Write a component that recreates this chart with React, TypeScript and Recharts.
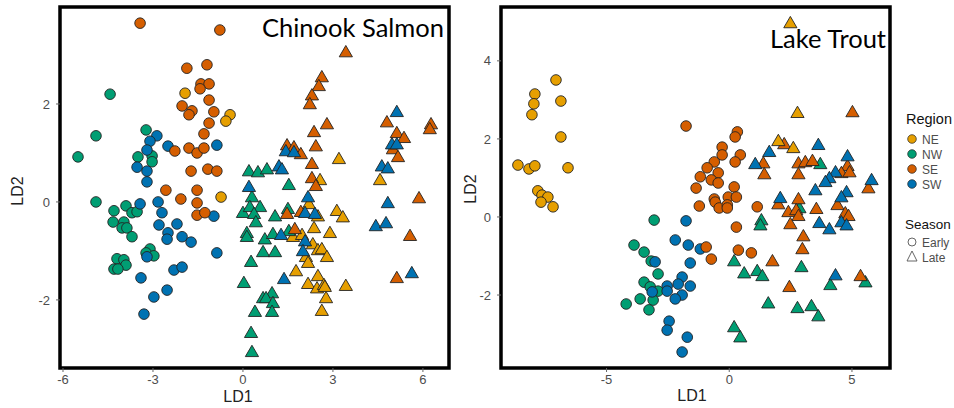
import React from "react";
import { ScatterChart, Scatter, XAxis, YAxis, ReferenceArea } from "recharts";

type Pt = [number, number];

const regionColors: Record<string, string> = {
  NE: "#E69F00",
  NW: "#009E73",
  SE: "#D55E00",
  SW: "#0072B2",
};
const regions = ["NE", "NW", "SE", "SW"];
const seasons = ["Early", "Late"];

// Chinook Salmon discriminant scores (LD1, LD2)
const chinookNEEarly: Pt[] = [[-1.93, 2.22], [-0.43, 1.78], [-0.57, 1.65], [-0.73, 0.1]];
const chinookNWEarly: Pt[] = [
  [-4.43, 2.2], [-4.9, 1.35], [-5.5, 0.92], [-3.23, 1.47], [-3.5, 0.92], [-3.03, 0.94], [-3.03, 0.82],
  [-4.9, 0.0], [-3.9, -0.08], [-4.3, -0.18], [-3.7, -0.22], [-3.53, -0.2], [-4.33, -0.41], [-3.97, -0.41],
  [-4.03, -0.53], [-3.87, -0.53], [-3.7, -0.71], [-3.1, -0.96], [-3.23, -1.04], [-2.97, -1.1], [-4.2, -1.16],
  [-3.97, -1.18], [-3.9, -1.29], [-4.3, -1.37], [-4.17, -1.37],
];
const chinookSEEarly: Pt[] = [
  [-3.43, 3.65], [-0.77, 3.51], [-1.87, 2.73], [-1.2, 2.8], [-1.4, 2.41], [-1.13, 2.41], [-1.43, 2.31],
  [-1.13, 2.08], [-2.03, 1.96], [-1.7, 1.86], [-1.8, 1.78], [-0.97, 1.84], [-1.13, 1.61], [-1.3, 1.39],
  [-2.27, 1.04], [-1.8, 1.1], [-1.53, 1.0], [-1.3, 1.1], [-1.73, 0.63], [-1.17, 0.67], [-0.87, 0.63],
  [-2.57, 0.24], [-1.53, 0.24], [-2.07, 0.06], [-1.53, -0.02], [-1.53, -0.27], [-1.27, -0.22],
];
const chinookSWEarly: Pt[] = [
  [-2.87, 1.35], [-3.1, 1.24], [-2.5, 1.14], [-0.87, 1.16], [-3.2, 1.06], [-3.53, 0.71], [-3.2, 0.63],
  [-3.2, 0.41], [-3.43, -0.04], [-2.83, 0.0], [-2.7, -0.22], [-0.97, -0.29], [-2.8, -0.47], [-2.2, -0.45],
  [-2.5, -0.63], [-2.53, -0.76], [-2.03, -0.71], [-1.73, -0.82], [-0.87, -1.04], [-3.2, -1.12], [-2.3, -1.39],
  [-2.03, -1.33], [-3.4, -1.55], [-2.53, -1.8], [-2.97, -1.94], [-3.3, -2.29],
];
const chinookNELate: Pt[] = [
  [3.2, 0.88], [2.57, 0.45], [4.57, 0.45], [2.2, -0.04], [2.5, -0.29], [3.13, -0.18], [3.33, -0.31],
  [2.37, -0.53], [2.9, -0.63], [1.67, -0.71], [1.97, -0.67], [2.33, -0.86], [2.5, -0.98], [2.63, -0.96],
  [2.8, -1.12], [2.1, -1.12], [2.17, -1.24], [1.77, -1.41], [2.5, -1.51], [2.17, -1.67], [2.47, -1.76],
  [2.7, -1.69], [2.73, -1.73], [3.43, -1.71], [2.77, -1.96], [2.63, -2.22],
];
const chinookNWLate: Pt[] = [
  [0.2, 0.63], [0.5, 0.61], [0.8, 0.67], [1.53, 0.35], [0.3, 0.1], [0.0, -0.22], [0.23, -0.1],
  [0.57, -0.1], [0.37, -0.24], [0.43, -0.41], [1.07, -0.29], [1.5, -0.14], [0.13, -0.63], [0.13, -0.71],
  [0.73, -0.76], [1.0, -0.65], [1.53, -0.59], [0.67, -1.02], [1.07, -1.02], [0.27, -1.22], [0.03, -1.65],
  [0.67, -1.96], [0.97, -1.86], [0.77, -1.96], [1.0, -2.06], [0.97, -2.24], [0.4, -2.24], [0.27, -2.67],
  [0.3, -3.06],
];
const chinookSELate: Pt[] = [
  [3.43, 3.06], [2.63, 2.55], [2.53, 2.37], [2.3, 2.18], [2.23, 2.0], [2.8, 1.59], [2.37, 1.43],
  [2.43, 1.14], [1.47, 1.16], [1.7, 1.12], [1.93, 0.98], [2.3, 0.78], [2.3, 0.49], [2.43, 0.33],
  [4.8, 1.63], [5.13, 1.41], [5.37, 1.31], [5.0, 1.08], [5.17, 0.92], [6.27, 1.59], [6.23, 1.49],
  [5.87, 0.08], [1.47, -0.24], [1.93, -0.2], [1.73, -0.55], [5.57, -0.69], [5.13, -1.55],
];
const chinookSWLate: Pt[] = [
  [1.43, 1.04], [1.7, 1.02], [1.2, 0.73], [1.3, 0.67], [0.2, 0.31], [2.17, 0.1], [5.13, 1.84],
  [4.97, 1.18], [5.13, 1.18], [4.63, 0.73], [4.83, 0.69], [4.83, -0.02], [2.07, -0.22], [2.4, -0.24],
  [4.43, -0.49], [4.77, -0.43], [1.27, -0.67], [2.07, -0.8], [2.0, -1.0], [1.37, -1.57], [5.63, -1.45],
];

// Lake Trout discriminant scores (LD1, LD2)
const troutNEEarly: Pt[] = [
  [-7.06, 3.51], [-7.92, 3.15], [-7.96, 2.9], [-8.04, 2.62], [-6.86, 2.97], [-6.86, 2.05], [-8.61, 1.33],
  [-8.16, 1.23], [-7.92, 1.31], [-6.57, 1.26], [-7.8, 0.67], [-7.63, 0.56], [-7.39, 0.51], [-7.67, 0.38],
  [-7.18, 0.26],
];
const troutNWEarly: Pt[] = [
  [-3.06, -0.08], [-3.88, -0.72], [-3.47, -0.9], [-3.18, -1.13], [-2.9, -1.46], [-3.47, -1.67],
  [-3.22, -1.79], [-2.9, -1.9], [-3.63, -2.1], [-3.1, -2.13], [-3.27, -2.38], [-4.2, -2.23],
];
const troutSEEarly: Pt[] = [
  [-1.76, 2.33], [0.33, 2.18], [0.24, 2.05], [-0.29, 1.79], [-0.29, 1.59], [0.45, 1.59], [-0.61, 1.41],
  [-0.9, 1.26], [0.24, 1.41], [-0.45, 1.13], [-0.73, 0.95], [-0.45, 0.87], [-1.18, 1.03], [0.2, 0.77],
  [-0.04, 0.51], [0.29, 0.51], [-0.61, 0.46], [-1.35, 0.74], [-1.22, 0.28], [-0.57, 0.38], [-0.41, 0.23],
  [-0.08, 0.31], [-0.08, 0.23], [1.14, 0.26], [0.29, -0.26], [-0.94, -0.77], [-0.73, -1.08], [0.37, -0.85],
  [0.9, -0.92],
];
const troutSWEarly: Pt[] = [
  [-1.76, -0.1], [-2.2, -0.59], [-1.67, -0.72], [-1.18, -0.82], [-3.02, -1.15], [-1.59, -1.18],
  [-1.92, -1.54], [-2.08, -1.72], [-1.59, -1.77], [-2.53, -1.77], [-2.53, -1.9], [-3.14, -1.92],
  [-1.92, -2.0], [-2.2, -2.1], [-2.45, -2.67], [-2.53, -2.9], [-1.71, -3.08], [-1.92, -3.46],
];
const troutNELate: Pt[] = [[2.49, 4.97], [2.78, 2.67], [2.0, 1.95], [2.61, 1.77]];
const troutNWLate: Pt[] = [
  [3.71, 1.36], [2.86, 0.23], [1.31, -0.08], [1.27, -0.21], [0.2, -1.13], [0.61, -1.44], [1.14, -1.38],
  [1.35, -1.51], [2.94, -1.28], [4.12, -1.74], [5.55, -1.67], [1.59, -2.21], [2.78, -2.33], [3.35, -2.28],
  [3.63, -2.54], [0.2, -2.82], [0.45, -3.08],
];
const troutSELate: Pt[] = [
  [5.02, 2.69], [2.24, 1.87], [1.39, 1.38], [1.43, 1.1], [2.82, 1.38], [3.1, 1.41], [3.39, 1.44],
  [2.82, 1.1], [4.82, 1.31], [4.57, 1.13], [4.9, 1.15], [5.67, 0.74], [2.82, 0.46], [2.0, 0.33],
  [2.41, 0.13], [2.73, 0.18], [2.82, 0.03], [3.55, 0.21], [4.41, 0.31], [4.73, 0.1], [4.86, 0.03],
  [2.49, -0.18], [3.02, -0.49], [2.98, -0.82], [1.76, -1.13], [2.45, -1.79], [5.35, -1.51],
];
const troutSWLate: Pt[] = [
  [1.63, 1.67], [3.63, 1.85], [4.82, 1.56], [1.06, 1.36], [4.33, 1.15], [4.08, 1.0], [3.92, 0.9],
  [5.8, 0.95], [3.51, 0.69], [4.78, 0.64], [4.57, 0.51], [2.08, 0.49], [3.67, -0.15], [4.57, -0.13],
  [4.78, -0.21], [4.08, -0.31], [4.33, -1.49],
];

const chinookXTicks = [-6, -3, 0, 3, 6];
const chinookYTicks = [-2, 0, 2];
const troutXTicks = [-5, 0, 5];
const troutYTicks = [-2, 0, 2, 4];

interface Group {
  region: string;
  season: string;
  points: Pt[];
}

const chinookGroups: Group[] = [
  { region: "NW", season: "Early", points: chinookNWEarly },
  { region: "SW", season: "Early", points: chinookSWEarly },
  { region: "SE", season: "Early", points: chinookSEEarly },
  { region: "NE", season: "Early", points: chinookNEEarly },
  { region: "NE", season: "Late", points: chinookNELate },
  { region: "NW", season: "Late", points: chinookNWLate },
  { region: "SE", season: "Late", points: chinookSELate },
  { region: "SW", season: "Late", points: chinookSWLate },
];

const troutGroups: Group[] = [
  { region: "NE", season: "Early", points: troutNEEarly },
  { region: "NW", season: "Early", points: troutNWEarly },
  { region: "SW", season: "Early", points: troutSWEarly },
  { region: "SE", season: "Early", points: troutSEEarly },
  { region: "NW", season: "Late", points: troutNWLate },
  { region: "SE", season: "Late", points: troutSELate },
  { region: "SW", season: "Late", points: troutSWLate },
  { region: "NE", season: "Late", points: troutNELate },
];

const tickStyle = { fill: "#4d4d4d", fontSize: 13, fontFamily: "'Liberation Sans', Arial, sans-serif" };

// circles for early fish, triangles for late fish
const makeShape = (season: string, color: string) => (props: any) => {
  const { cx, cy } = props;
  if (cx == null || cy == null) return <g />;
  if (season === "Early") {
    return <circle cx={cx} cy={cy} r={5.3} fill={color} stroke="#222" strokeWidth={0.9} />;
  }
  const s = 6.6;
  return (
    <polygon
      points={`${cx},${cy - s} ${cx + s},${cy + s * 0.72} ${cx - s},${cy + s * 0.72}`}
      fill={color}
      stroke="#222"
      strokeWidth={0.9}
      strokeLinejoin="round"
    />
  );
};

interface PanelProps {
  groups: Group[];
  width: number;
  yAxisWidth: number;
  rightMargin: number;
  xDomain: [number, number];
  yDomain: [number, number];
  xTicks: number[];
  yTicks: number[];
}

function Panel({ groups, width, yAxisWidth, rightMargin, xDomain, yDomain, xTicks, yTicks }: PanelProps) {
  return (
    <ScatterChart width={width} height={408} margin={{ top: 7, right: rightMargin, bottom: 0, left: 0 }}>
      <XAxis
        type="number"
        dataKey="x"
        domain={xDomain}
        ticks={xTicks}
        allowDataOverflow
        axisLine={false}
        tickSize={4}
        tickMargin={3}
        tickLine={{ stroke: "#666" }}
        tick={tickStyle}
        height={40}
      />
      <YAxis
        type="number"
        dataKey="y"
        domain={yDomain}
        ticks={yTicks}
        allowDataOverflow
        axisLine={false}
        tickSize={4}
        tickMargin={6}
        tickLine={{ stroke: "#666" }}
        tick={tickStyle}
        width={yAxisWidth}
      />
      {groups.map((g) => (
        <Scatter
          key={`${g.region}-${g.season}`}
          name={`${g.region} ${g.season}`}
          data={g.points.map(([x, y]) => ({ x, y }))}
          shape={makeShape(g.season, regionColors[g.region])}
          isAnimationActive={false}
        />
      ))}
      {/* panel frame */}
      <ReferenceArea
        x1={xDomain[0]}
        x2={xDomain[1]}
        y1={yDomain[0]}
        y2={yDomain[1]}
        fill="none"
        fillOpacity={0}
        stroke="#000"
        strokeWidth={3.5}
        ifOverflow="visible"
      />
    </ScatterChart>
  );
}

const labelFont = "'Liberation Sans', Arial, sans-serif";
const titleFont = "Lato, 'Open Sans', sans-serif";

export default function App() {
  return (
    <div style={{ position: "absolute", left: 0, top: 0, width: 954, height: 408, background: "#fff", fontFamily: labelFont }}>
      <div style={{ position: "absolute", left: 0, top: 0 }}>
        <Panel
          groups={chinookGroups}
          width={460}
          yAxisWidth={60}
          rightMargin={11}
          xDomain={[-6.1, 6.87]}
          yDomain={[-3.39, 3.98]}
          xTicks={chinookXTicks}
          yTicks={chinookYTicks}
        />
      </div>
      <div style={{ position: "absolute", left: 460, top: 0 }}>
        <Panel
          groups={troutGroups}
          width={440}
          yAxisWidth={41}
          rightMargin={10}
          xDomain={[-9.3, 6.55]}
          yDomain={[-3.87, 5.38]}
          xTicks={troutXTicks}
          yTicks={troutYTicks}
        />
      </div>
      <svg width={954} height={408} style={{ position: "absolute", left: 0, top: 0, pointerEvents: "none" }}>
        <text x={444} y={37} textAnchor="end" fontSize={25.5} fontFamily={titleFont} fill="#000">
          Chinook Salmon
        </text>
        <text x={886} y={48} textAnchor="end" fontSize={25.5} fontFamily={titleFont} fill="#000">
          Lake Trout
        </text>
        <text x={238} y={402} textAnchor="middle" fontSize={16} fill="#222" fontFamily={labelFont}>LD1</text>
        <text x={692} y={401} textAnchor="middle" fontSize={16} fill="#222" fontFamily={labelFont}>LD1</text>
        <text x={0} y={0} transform="translate(23,191) rotate(-90)" textAnchor="middle" fontSize={16} fill="#222" fontFamily={labelFont}>
          LD2
        </text>
        <text x={0} y={0} transform="translate(476,189) rotate(-90)" textAnchor="middle" fontSize={16} fill="#222" fontFamily={labelFont}>
          LD2
        </text>

        {/* legend */}
        <text x={906} y={124} fontSize={14.5} fill="#111" fontFamily={labelFont}>Region</text>
        {regions.map((r, i) => (
          <g key={r}>
            <circle cx={912} cy={139 + i * 15} r={4.3} fill={regionColors[r]} stroke="#222" strokeWidth={0.7} />
            <text x={922} y={143.5 + i * 15} fontSize={12} fill="#4d4d4d" fontFamily={labelFont}>{r}</text>
          </g>
        ))}
        <text x={905} y={229} fontSize={13.5} fill="#111" fontFamily={labelFont}>Season</text>
        {seasons.map((s, i) => (
          <g key={s}>
            {s === "Early" ? (
              <circle cx={912} cy={242} r={4} fill="none" stroke="#555" strokeWidth={0.9} />
            ) : (
              <polygon points="912,251 917,261 907,261" fill="none" stroke="#555" strokeWidth={0.9} />
            )}
            <text x={922} y={246.5 + i * 15} fontSize={12} fill="#4d4d4d" fontFamily={labelFont}>{s}</text>
          </g>
        ))}
      </svg>
    </div>
  );
}
